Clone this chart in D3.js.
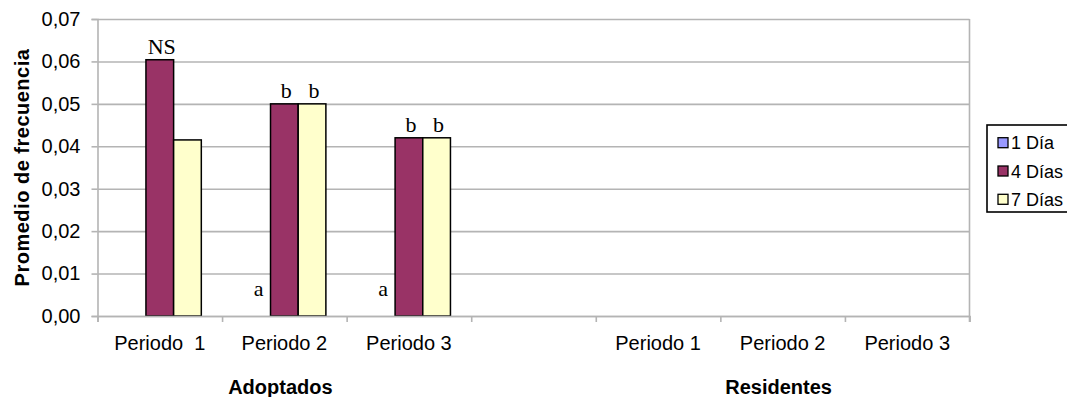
<!DOCTYPE html>
<html>
<head>
<meta charset="utf-8">
<script src="https://cdn.jsdelivr.net/npm/d3@7"></script>
<style>
  body { margin: 0; background: #fff; }
  #chart { width: 1067px; height: 397px; }
  text { font-family: "Liberation Sans", Arial, sans-serif; }
</style>
</head>
<body>
<div id="chart"></div>
<script>
const periods = ["Periodo  1", "Periodo 2", "Periodo 3", "", "Periodo 1", "Periodo 2", "Periodo 3"];
const groups = ["Adoptados", "Residentes"];
const groupSpans = [[0, 3], [4, 7]];
const series = ["1 Día", "4 Días", "7 Días"];
const colors = ["#9999ff", "#993366", "#ffffcc"];

const dia1 = [0, 0, 0, null, null, null, null];
const dia4 = [0.0604, 0.050, 0.042, null, null, null, null];
const dia7 = [0.0415, 0.050, 0.042, null, null, null, null];

const labels1 = ["", "a", "a", "", "", "", ""];
const labels4 = ["NS", "b", "b", "", "", "", ""];
const labels7 = ["", "b", "b", "", "", "", ""];

const yTicks = [0, 0.01, 0.02, 0.03, 0.04, 0.05, 0.06, 0.07];

function drawChart() {
  const container = d3.select("#chart");
  container.selectAll("*").remove();

  const width = 1067;
  const height = 397;
  const margin = { top: 19, right: 97.5, bottom: 81, left: 97.5 };

  const svg = container.append("svg")
    .attr("width", width)
    .attr("height", height);

  const plotW = width - margin.left - margin.right;
  const y = d3.scaleLinear()
    .domain([0, 0.07])
    .range([height - margin.bottom, margin.top]);

  const x = d3.scaleBand()
    .domain(d3.range(periods.length))
    .range([margin.left, margin.left + plotW])
    .padding(0);

  const xEdge = d3.scaleLinear()
    .domain([0, periods.length])
    .range([margin.left, margin.left + plotW]);

  const xs = d3.scaleBand()
    .domain(series)
    .range([0, x.bandwidth()])
    .paddingInner(0)
    .paddingOuter(0.75);

  const fmt = d => d3.format(".2f")(d).replace(".", ",");
  const gridColor = "#b4b4b4";

  // gridlines
  svg.append("g")
    .attr("transform", `translate(${margin.left},0)`)
    .call(d3.axisLeft(y).tickValues(yTicks).tickSize(-plotW).tickFormat(""))
    .call(g => g.select(".domain").remove())
    .call(g => g.selectAll("line").attr("stroke", gridColor).attr("stroke-width", 1.6));

  // right border
  svg.append("line")
    .attr("x1", margin.left + plotW).attr("x2", margin.left + plotW)
    .attr("y1", y(0.07)).attr("y2", y(0) + 6)
    .attr("stroke", gridColor).attr("stroke-width", 1.6);

  // bars
  const seriesData = [dia1, dia4, dia7];
  const seriesLabels = [labels1, labels4, labels7];
  seriesData.forEach((vals, si) => {
    svg.append("g")
      .selectAll("rect")
      .data(vals.map((v, i) => ({ v, i })).filter(d => d.v !== null && d.v > 0))
      .join("rect")
      .attr("x", d => x(d.i) + xs(series[si]))
      .attr("y", d => y(d.v))
      .attr("width", xs.bandwidth())
      .attr("height", d => y(0) - y(d.v))
      .attr("fill", colors[si])
      .attr("stroke", "#000")
      .attr("stroke-width", 1.5);
  });

  // letter labels
  seriesLabels.forEach((labs, si) => {
    svg.append("g")
      .selectAll("text")
      .data(labs.map((t, i) => ({ t, i, v: seriesData[si][i] || 0 })).filter(d => d.t))
      .join("text")
      .attr("x", d => x(d.i) + xs(series[si]) + xs.bandwidth() / 2 + (si === 0 ? 2 : 2))
      .attr("y", d => d.v > 0 ? y(d.v) - 6 : y(0) - 20)
      .attr("text-anchor", "middle")
      .style("font-family", "'Liberation Serif', 'Times New Roman', serif")
      .style("font-size", "22px")
      .attr("fill", "#000")
      .text(d => d.t);
  });

  // y axis
  svg.append("g")
    .attr("transform", `translate(${margin.left},0)`)
    .call(d3.axisLeft(y).tickValues(yTicks).tickSize(6).tickPadding(11).tickFormat(fmt))
    .call(g => g.select(".domain").attr("stroke", gridColor).attr("stroke-width", 1.6))
    .call(g => g.selectAll("line").attr("stroke", gridColor).attr("stroke-width", 1.6))
    .call(g => g.selectAll("text").style("font-size", "20px").attr("fill", "#000"));

  // x axis tick marks at band edges
  svg.append("g")
    .attr("transform", `translate(0,${y(0)})`)
    .call(d3.axisBottom(xEdge).tickValues(d3.range(periods.length + 1)).tickSize(6).tickFormat(""))
    .call(g => g.select(".domain").attr("stroke", gridColor).attr("stroke-width", 1.6))
    .call(g => g.selectAll("line").attr("stroke", gridColor).attr("stroke-width", 1.6));

  // x category labels
  svg.append("g")
    .attr("transform", `translate(0,${y(0)})`)
    .call(d3.axisBottom(x).tickSize(0).tickPadding(20).tickFormat(i => periods[i]))
    .call(g => g.select(".domain").remove())
    .call(g => g.selectAll("text")
      .style("font-size", "20px")
      .style("white-space", "pre")
      .attr("fill", "#000"));

  // group labels
  svg.append("g")
    .selectAll("text")
    .data(groups)
    .join("text")
    .attr("x", (d, i) => (xEdge(groupSpans[i][0]) + xEdge(groupSpans[i][1])) / 2 - 4)
    .attr("y", 394)
    .attr("text-anchor", "middle")
    .style("font-size", "20px")
    .style("font-weight", "bold")
    .text(d => d);

  // y title
  svg.append("text")
    .attr("transform", `translate(29,${(y(0) + y(0.07)) / 2}) rotate(-90)`)
    .attr("text-anchor", "middle")
    .style("font-size", "20px")
    .style("font-weight", "bold")
    .style("letter-spacing", "0.5px")
    .text("Promedio de frecuencia");

  // legend
  const leg = svg.append("g").attr("transform", "translate(987,125)");
  leg.append("rect")
    .attr("width", 100).attr("height", 87)
    .attr("fill", "#fff").attr("stroke", "#000").attr("stroke-width", 1.6);
  const items = leg.selectAll("g.item")
    .data(series)
    .join("g")
    .attr("class", "item")
    .attr("transform", (d, i) => `translate(11,${17.7 + i * 28.3})`);
  items.append("rect")
    .attr("x", 0).attr("y", -5)
    .attr("width", 10).attr("height", 10)
    .attr("fill", (d, i) => colors[i])
    .attr("stroke", "#000").attr("stroke-width", 1.3);
  items.append("text")
    .attr("x", 13).attr("y", 6.5)
    .style("font-size", "18px")
    .text(d => d);
}

drawChart();
</script>
</body>
</html>
